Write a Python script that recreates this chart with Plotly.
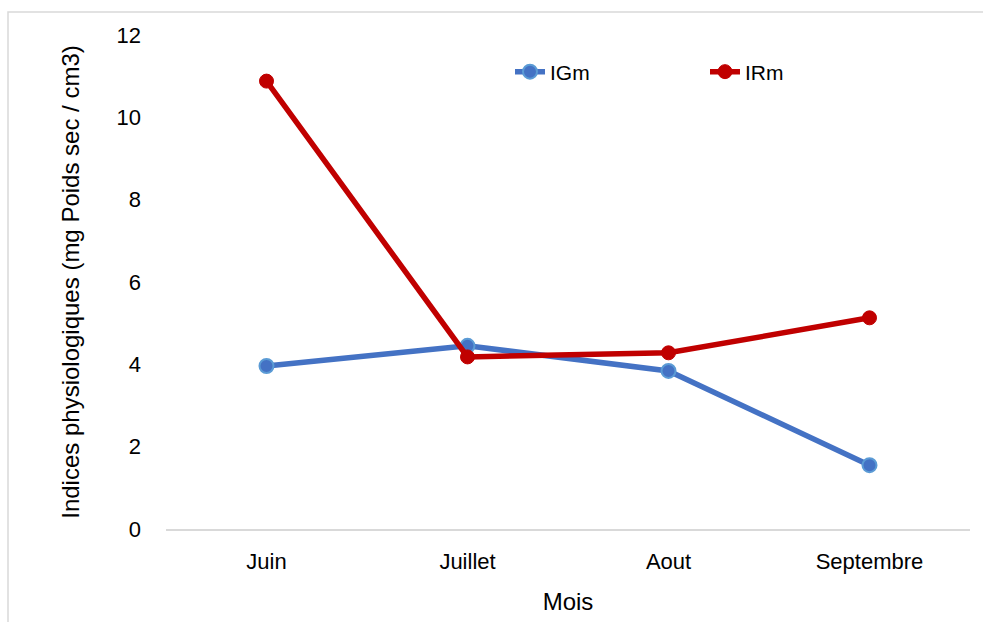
import plotly.graph_objects as go

months = ["Juin", "Juillet", "Aout", "Septembre"]
igm = [3.96, 4.45, 3.84, 1.55]
irm = [10.88, 4.18, 4.28, 5.13]
y_ticks = [0, 2, 4, 6, 8, 10, 12]

FONT = "Liberation Sans, Arial, sans-serif"

fig = go.Figure()
fig.add_trace(go.Scatter(
    x=months, y=igm, name="IGm", mode="lines+markers",
    line=dict(color="#4472C4", width=5.5),
    marker=dict(size=14, color="#4472C4", line=dict(color="#5B9BD5", width=2)),
))
fig.add_trace(go.Scatter(
    x=months, y=irm, name="IRm", mode="lines+markers",
    line=dict(color="#C00000", width=5.5),
    marker=dict(size=14, color="#C00000", line=dict(color="#C00000", width=1)),
))

fig.update_layout(
    width=983, height=622,
    margin=dict(l=166, r=13, t=35, b=93),
    paper_bgcolor="white", plot_bgcolor="white",
    font=dict(family=FONT, size=22, color="#000000"),
    showlegend=True,
    legend=dict(orientation="h", x=(510 - 166) / 804, y=1 - (72 - 35) / 494,
                xanchor="left", yanchor="middle",
                entrywidth=150, entrywidthmode="pixels",
                font=dict(size=21), bgcolor="rgba(0,0,0,0)"),
    xaxis=dict(
        title=dict(text="Mois", font=dict(size=24), standoff=20),
        range=[-0.5, 3.5], automargin=False,
        showgrid=False, showline=True, linecolor="#D9D9D9", linewidth=2,
        ticks="", ticklabelstandoff=12, zeroline=False,
    ),
    yaxis=dict(
        title=dict(text="Indices physiologiques (mg Poids sec / cm3)", font=dict(size=24), standoff=30),
        range=[0, 12], tickvals=y_ticks, showgrid=False, showline=False, automargin=False,
        zeroline=False, ticks="", ticklabelstandoff=24,
    ),
)

# outer chart border (clipped on right and bottom like the reference)
fig.add_shape(type="rect", xref="paper", yref="paper",
              x0=-158/804, x1=1.2, y0=-1.0, y1=1 + 23/494,
              line=dict(color="#D9D9D9", width=1.5), fillcolor="rgba(0,0,0,0)", layer="below")

fig.write_html("out.html", config={"displayModeBar": False},
               post_script="document.body.style.margin='0';")
